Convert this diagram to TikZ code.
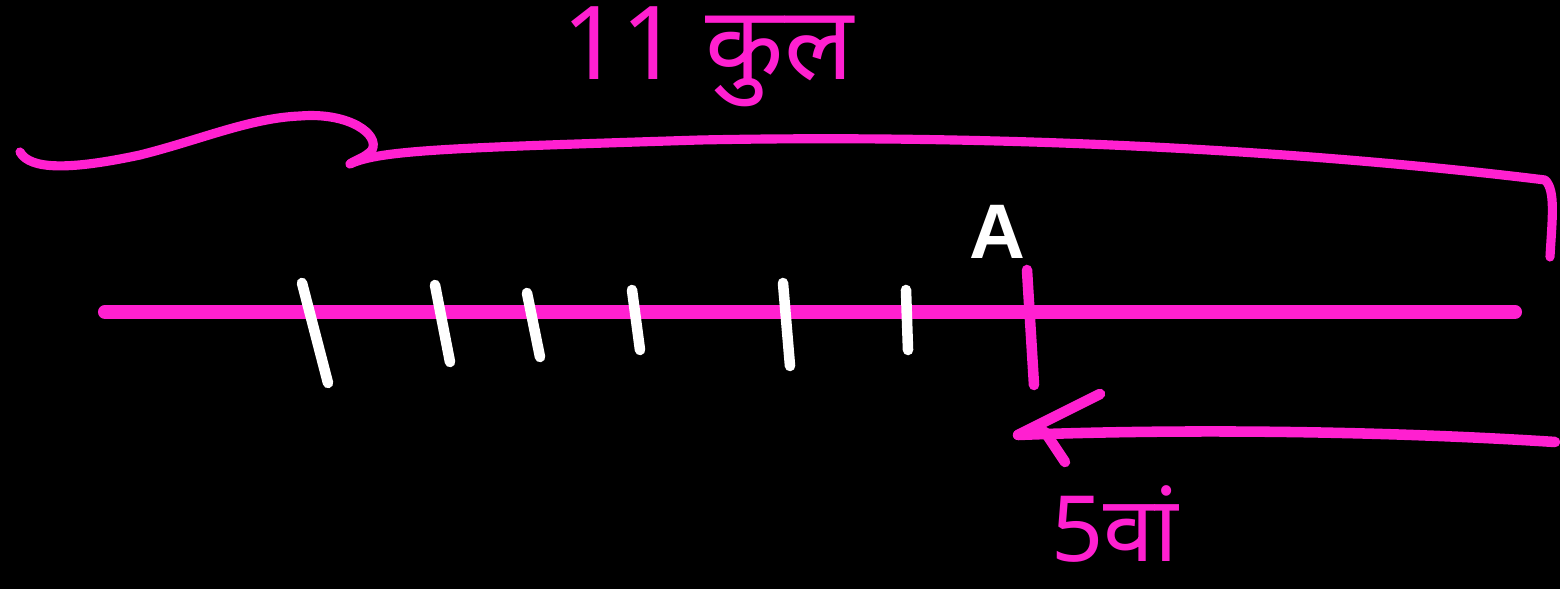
\documentclass[tikz,border=0pt]{standalone}
\usepackage{fontspec}
\newfontfamily\devfont[Script=Devanagari]{Noto Sans}
\newfontfamily\latfont{Liberation Sans}
\definecolor{pinkm}{RGB}{255,32,208}
\begin{document}
\begin{tikzpicture}[x=0.01cm,y=-0.01cm,
  mainline/.style={draw=pinkm,line width=4pt,line cap=round},
  whitetick/.style={draw=white,line width=3pt,line cap=round},
  pinkstroke/.style={draw=pinkm,line width=2.6pt,line cap=round,line join=round},
  pinklabel/.style={text=pinkm,inner sep=0pt,anchor=base,font=\devfont\fontsize{29}{34}\selectfont},
  whitelabel/.style={text=white,inner sep=0pt,font=\latfont\bfseries\fontsize{22}{26}\selectfont}]
\fill[black] (0,0) rectangle (1560,589);
\useasboundingbox (0,0) rectangle (1560,589);
% main line
\coordinate (L) at (105,312);
\coordinate (R) at (1515,312);
\draw[mainline] (L) -- (R);
% ticks
\coordinate (t1a) at (302,283); \coordinate (t1b) at (328,383);
\coordinate (t2a) at (435,285); \coordinate (t2b) at (450,362);
\coordinate (t3a) at (527,293); \coordinate (t3b) at (540,357);
\coordinate (t4a) at (632,290); \coordinate (t4b) at (640,350);
\coordinate (t5a) at (783,283); \coordinate (t5b) at (790,366);
\coordinate (t6a) at (906,290); \coordinate (t6b) at (908,350);
\draw[whitetick] (t1a) -- (t1b);
\draw[whitetick] (t2a) -- (t2b);
\draw[whitetick] (t3a) -- (t3b);
\draw[whitetick] (t4a) -- (t4b);
\draw[whitetick] (t5a) -- (t5b);
\draw[whitetick] (t6a) -- (t6b);
% A tick
\coordinate (Ta) at (1027,270); \coordinate (Tb) at (1034,385);
\draw[pinkstroke,line width=3pt] (Ta) -- (Tb);
\node[whitelabel] (A) at (997,232) {A};
% brace
\coordinate (b0) at (20,152);
\coordinate (bpk) at (300,116);
\coordinate (bc) at (372,150);
\coordinate (bend) at (350,164);
\coordinate (bR) at (1550,182);
\coordinate (bRd) at (1550,257);
\draw[pinkstroke] (b0) .. controls (30,170) and (70,170) .. (140,155)
  .. controls (200,140) and (250,118) .. (bpk)
  .. controls (350,112) and (380,135) .. (bc)
  .. controls (365,158) and (355,160) .. (bend);
\draw[pinkstroke] (bend) .. controls (380,150) and (450,148) .. (700,140)
  .. controls (1000,134) and (1300,150) .. (1545,180)
  .. controls (1556,190) and (1552,220) .. (bRd);
\node[pinklabel] (tot) at (708,80) {11 कुल};
% arrow
\coordinate (aR) at (1555,442);
\coordinate (aL) at (1018,435);
\coordinate (h1) at (1100,394);
\coordinate (h2) at (1065,462);
\draw[pinkstroke,line width=3pt] (aR) .. controls (1400,432) and (1200,428) .. (aL);
\draw[pinkstroke,line width=3pt] (h1) -- (aL);
\draw[pinkstroke,line width=3pt] (1045,432) -- (h2);
\node[pinklabel,font=\devfont\fontsize{26}{30}\selectfont] (fifth) at (1115,562) {5वां};
\end{tikzpicture}
\end{document}
